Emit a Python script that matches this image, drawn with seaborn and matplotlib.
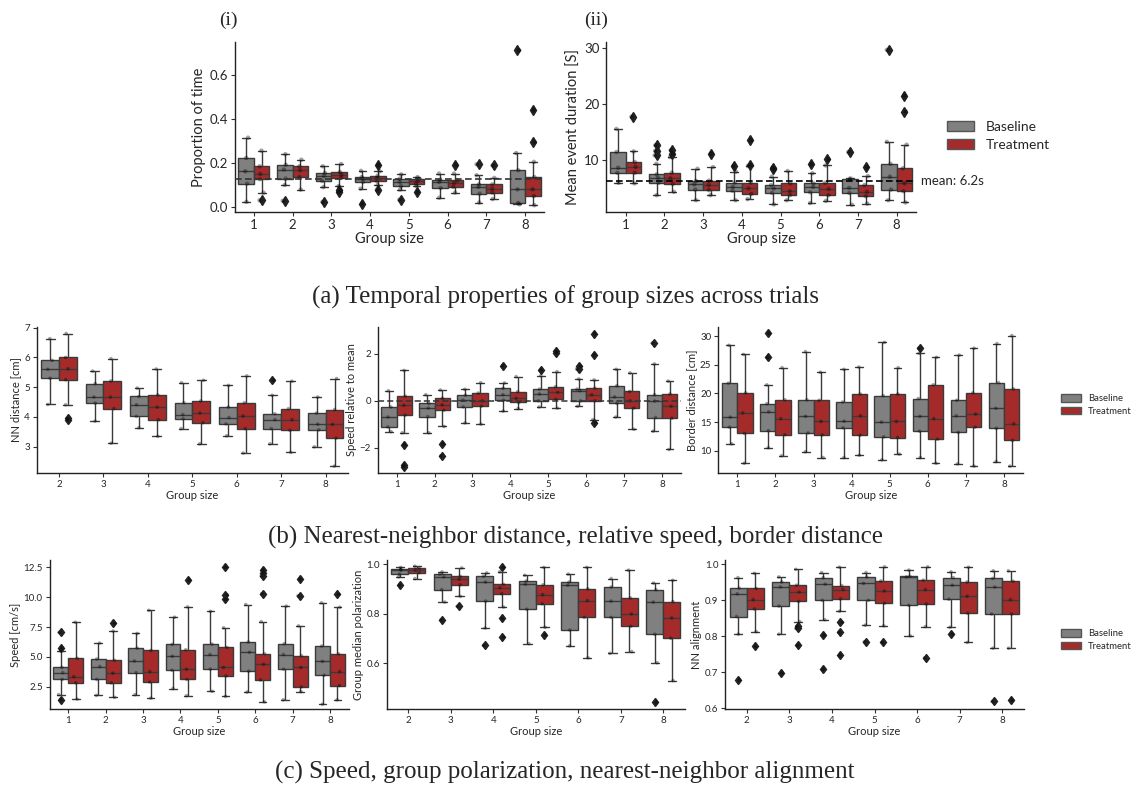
import numpy as np
import pandas as pd
import seaborn as sns
import matplotlib.pyplot as plt
import matplotlib.transforms as mtransforms
from matplotlib.patches import Patch

sns.set_theme(style="ticks")
plt.rcParams["font.family"] = ["Lato", "DejaVu Sans"]
np.random.seed(3)

conds = ["Baseline", "Treatment"]
palette = {"Baseline": "#808080", "Treatment": "#a52a2a"}

sizes_all = [1, 2, 3, 4, 5, 6, 7, 8]
sizes_2up = [2, 3, 4, 5, 6, 7, 8]

# box summaries: (low whisker, q1, median, q3, high whisker)
# plus the outliers drawn as diamonds, one list per group size

# (i) proportion of time
prop_base = [(0.023, 0.106, 0.162, 0.223, 0.315), (0.100, 0.129, 0.170, 0.192, 0.240),
             (0.090, 0.118, 0.141, 0.155, 0.185), (0.083, 0.114, 0.129, 0.136, 0.164),
             (0.079, 0.095, 0.114, 0.129, 0.148), (0.042, 0.086, 0.114, 0.124, 0.152),
             (0.020, 0.061, 0.091, 0.103, 0.144), (0.012, 0.018, 0.080, 0.167, 0.245)]
prop_base_out = [[], [0.028], [0.023], [0.015], [0.033], [], [0.194], [0.712]]
prop_treat = [(0.065, 0.126, 0.150, 0.185, 0.256), (0.079, 0.136, 0.167, 0.185, 0.215),
              (0.095, 0.132, 0.147, 0.159, 0.195), (0.100, 0.118, 0.132, 0.142, 0.162),
              (0.094, 0.106, 0.118, 0.129, 0.136), (0.065, 0.091, 0.109, 0.121, 0.152),
              (0.036, 0.065, 0.083, 0.103, 0.132), (0.008, 0.050, 0.080, 0.136, 0.205)]
prop_treat_out = [[0.030], [], [0.076, 0.068], [0.190, 0.079], [0.068], [0.192], [0.189], [0.442, 0.295]]

# (ii) mean event duration
dur_base = [(5.9, 7.7, 8.6, 11.4, 15.5), (3.7, 5.9, 6.8, 7.4, 9.3), (2.8, 4.7, 5.65, 6.25, 8.4),
            (2.8, 4.5, 5.2, 5.95, 7.9), (2.05, 4.1, 4.9, 5.5, 7.0), (2.3, 4.2, 5.2, 5.8, 7.6),
            (2.0, 4.1, 5.0, 6.5, 6.7), (2.8, 4.7, 7.0, 9.3, 13.2)]
dur_base_out = [[], [12.6, 11.6, 10.8], [], [8.9], [8.6, 8.3], [9.2], [11.4], [29.6]]
dur_treat = [(5.8, 7.7, 8.75, 9.6, 11.5), (4.3, 5.7, 6.7, 7.7, 10.5), (3.7, 4.6, 5.5, 6.3, 8.7),
             (3.0, 3.9, 4.9, 5.95, 8.9), (2.8, 3.7, 4.4, 5.8, 8.0), (2.7, 3.7, 4.8, 5.9, 9.0),
             (2.2, 3.5, 4.3, 5.5, 7.1), (2.4, 4.4, 5.8, 8.5, 12.7)]
dur_treat_out = [[17.7], [11.7, 11.1], [11.1], [9.1, 13.5], [], [10.1], [8.7], [21.4, 18.6]]

# (b) nearest-neighbour distance, sizes 2-8
nn_base = [(4.42, 5.30, 5.60, 5.90, 6.63), (3.86, 4.47, 4.67, 5.12, 5.54), (3.64, 4.02, 4.41, 4.69, 4.97),
           (3.61, 3.94, 4.08, 4.48, 5.15), (3.37, 3.77, 3.98, 4.33, 5.06), (3.10, 3.61, 3.91, 4.11, 4.73),
           (3.00, 3.57, 3.76, 4.13, 4.67)]
nn_base_out = [[], [], [], [], [], [5.23], []]
nn_treat = [(4.41, 5.25, 5.62, 6.00, 6.80), (3.12, 4.28, 4.67, 5.21, 5.96), (3.35, 3.91, 4.33, 4.74, 5.61),
            (3.10, 3.81, 4.13, 4.54, 5.23), (2.79, 3.61, 4.03, 4.48, 5.38), (2.81, 3.55, 3.91, 4.28, 5.20),
            (2.35, 3.29, 3.75, 4.25, 5.29)]
nn_treat_out = [[3.91, 3.95], [], [], [], [], [], []]

# (b) speed relative to mean
rel_base = [(-1.31, -1.11, -0.69, -0.26, 0.43), (-1.36, -0.67, -0.31, -0.11, 0.26),
            (-0.94, -0.26, 0.03, 0.24, 0.49), (-0.44, 0.03, 0.26, 0.53, 0.76),
            (-0.26, 0.00, 0.29, 0.50, 1.07), (-0.23, 0.00, 0.43, 0.50, 0.93),
            (-0.69, -0.11, 0.17, 0.64, 1.34), (-1.29, -0.71, -0.01, 0.26, 1.57)]
rel_base_out = [[], [], [], [1.49], [1.31], [1.47, 1.36], [], [2.46]]
rel_treat = [(-1.36, -0.61, -0.19, 0.20, 1.29), (-1.09, -0.40, -0.17, 0.11, 0.46),
             (-0.99, -0.23, 0.00, 0.33, 0.77), (-0.33, -0.07, 0.11, 0.39, 1.03),
             (-0.31, 0.06, 0.36, 0.60, 1.24), (-0.80, 0.00, 0.26, 0.54, 0.89),
             (-1.21, -0.31, 0.00, 0.40, 1.19), (-2.07, -0.74, -0.23, 0.29, 0.84)]
rel_treat_out = [[-1.86, -2.74, -2.81], [-1.83, -2.34], [], [], [2.11, 2.04], [2.86, 1.96, -0.93], [], []]

# (b) border distance
border_base = [(11.2, 14.1, 15.85, 21.8, 28.4), (10.5, 13.5, 16.8, 18.2, 21.5), (9.8, 13.1, 16.0, 18.9, 27.3),
               (8.8, 14.0, 15.15, 18.5, 24.2), (8.4, 12.4, 15.0, 19.6, 28.9), (8.8, 13.4, 16.0, 19.1, 27.0),
               (7.7, 13.2, 16.1, 18.8, 26.7), (8.1, 13.9, 17.4, 21.9, 28.7)]
border_base_out = [[], [30.5, 26.3], [], [], [], [27.9], [], []]
border_treat = [(7.8, 13.0, 16.6, 20.1, 26.8), (9.1, 12.8, 15.6, 18.9, 24.5), (8.8, 12.75, 15.1, 18.8, 23.7),
                (9.2, 12.7, 16.1, 19.9, 24.6), (9.4, 12.3, 15.1, 19.9, 24.5), (7.8, 12.0, 15.6, 21.5, 26.3),
                (7.3, 14.1, 16.4, 20.1, 27.9), (7.3, 11.8, 14.7, 20.8, 30.1)]
border_treat_out = [[], [], [], [], [], [], [], []]

# (c) speed
speed_base = [(1.85, 3.12, 3.69, 4.12, 5.5), (1.79, 3.12, 4.2, 4.83, 6.16), (1.85, 3.69, 4.66, 5.74, 6.96),
              (2.36, 3.89, 5.06, 6.05, 8.32), (2.13, 3.98, 5.2, 6.08, 8.81), (2.07, 3.81, 5.4, 6.25, 9.38),
              (1.42, 3.98, 5.2, 6.11, 9.25), (1.05, 3.47, 4.63, 5.91, 9.52)]
speed_base_out = [[1.42, 5.75, 7.05], [], [], [], [], [], [], []]
speed_treat = [(1.48, 2.84, 3.35, 4.89, 7.9), (1.62, 2.84, 3.64, 4.72, 7.16), (1.56, 2.9, 3.78, 5.54, 8.89),
               (1.76, 3.12, 3.98, 5.6, 9.18), (1.7, 3.41, 4.12, 5.8, 7.44), (1.25, 3.07, 4.38, 5.28, 7.95),
               (2.1, 2.5, 4.12, 5.11, 7.59), (1.42, 2.61, 3.78, 5.26, 9.15)]
speed_treat_out = [[], [7.81], [], [11.42], [12.5, 10.2, 9.8], [12.27, 12.02, 11.79, 10.28],
                   [11.5, 10.11], [10.23]]

# (c) group median polarization, sizes 2-8
pol_base = [(0.950, 0.961, 0.977, 0.981, 0.988), (0.848, 0.898, 0.950, 0.961, 0.970),
            (0.743, 0.852, 0.929, 0.952, 0.966), (0.680, 0.819, 0.920, 0.933, 0.956),
            (0.671, 0.735, 0.916, 0.929, 0.961), (0.641, 0.786, 0.852, 0.909, 0.943),
            (0.603, 0.718, 0.848, 0.898, 0.925)]
pol_base_out = [[0.916], [0.776], [0.673], [], [], [], [0.443]]
pol_treat = [(0.943, 0.967, 0.977, 0.984, 0.993), (0.871, 0.918, 0.940, 0.952, 0.986),
             (0.828, 0.882, 0.906, 0.920, 0.970), (0.746, 0.841, 0.878, 0.918, 0.988),
             (0.623, 0.786, 0.854, 0.902, 0.988), (0.648, 0.750, 0.800, 0.865, 0.977),
             (0.531, 0.702, 0.784, 0.850, 0.936)]
pol_treat_out = [[], [0.831], [0.988, 0.782, 0.707], [0.716], [], [], []]

# (c) NN alignment, sizes 2-8
align_base = [(0.806, 0.855, 0.918, 0.934, 0.963), (0.806, 0.884, 0.937, 0.951, 0.965),
              (0.846, 0.900, 0.945, 0.963, 0.977), (0.831, 0.900, 0.947, 0.965, 0.977),
              (0.801, 0.886, 0.965, 0.967, 0.984), (0.825, 0.903, 0.942, 0.963, 0.979),
              (0.767, 0.862, 0.937, 0.961, 0.982)]
align_base_out = [[0.679], [0.698], [0.803, 0.708], [0.785], [], [0.806], [0.619]]
align_treat = [(0.813, 0.876, 0.902, 0.933, 0.975), (0.841, 0.897, 0.923, 0.942, 0.986),
               (0.870, 0.904, 0.930, 0.941, 0.992), (0.829, 0.892, 0.926, 0.954, 0.993),
               (0.827, 0.890, 0.930, 0.956, 0.993), (0.783, 0.864, 0.911, 0.951, 0.992),
               (0.767, 0.862, 0.902, 0.953, 0.982)]
align_treat_out = [[0.772], [0.828, 0.822, 0.775], [0.839, 0.811, 0.747], [0.783], [0.740], [], [0.622]]


def long_table(sizes, base, base_out, treat, treat_out):
    # quartile values are repeated so seaborn's own quartiles land on the read values
    rows = []
    for cond, stats, outs in (("Baseline", base, base_out), ("Treatment", treat, treat_out)):
        for g, (lo, q1, med, q3, hi), extra in zip(sizes, stats, outs):
            vals = [lo] + [q1] * 5 + [med] * 5 + [q3] * 5 + [hi] + list(extra)
            rows += [(g, cond, v) for v in vals]
    return pd.DataFrame(rows, columns=["size", "cond", "value"])


def panel(ax, df, ylabel, ylim, yticks, fmt, small):
    fs_tick, fs_lab = (7, 8) if small else (9.5, 10.5)
    sns.boxplot(data=df, x="size", y="value", hue="cond", hue_order=conds, palette=palette,
                saturation=1, width=0.8, linecolor="#3a3a3a", linewidth=1.0,
                flierprops=dict(marker="d", markerfacecolor="#222222", markeredgecolor="#222222",
                                markersize=4.5 if small else 5.5),
                legend=False, ax=ax)
    pts = df.drop_duplicates()
    sns.stripplot(data=pts, x="size", y="value", hue="cond", hue_order=conds, dodge=True,
                  palette={"Baseline": "black", "Treatment": "black"}, alpha=0.35,
                  size=2.6 if small else 3.2, jitter=0.12, legend=False, ax=ax)
    ax.set_ylim(*ylim)
    ax.set_yticks(yticks)
    ax.set_yticklabels([fmt.format(t).replace("-", "\u2212") for t in yticks])
    ax.set_xlim(-0.5, df["size"].nunique() - 0.5)
    ax.set_xlabel("Group size", fontsize=fs_lab, labelpad=1)
    ax.set_ylabel(ylabel, fontsize=fs_lab, labelpad=2)
    ax.tick_params(labelsize=fs_tick, length=3, width=0.8, color="#333333", pad=2)
    sns.despine(ax=ax)
    for s in ("left", "bottom"):
        ax.spines[s].set_color("#222222")
        ax.spines[s].set_linewidth(1.0)


W, H = 1137, 787
fig = plt.figure(figsize=(W / 100, H / 100), dpi=100)


def add_axes(left, right, top, bottom):
    return fig.add_axes([left / W, 1 - bottom / H, (right - left) / W, (bottom - top) / H])


# row (a)
ax = add_axes(234.6, 544.4, 42, 212)
panel(ax, long_table(sizes_all, prop_base, prop_base_out, prop_treat, prop_treat_out),
      "Proportion of time", (-0.023, 0.75), [0.0, 0.2, 0.4, 0.6], "{:.1f}", False)
ax.axhline(0.125, ls=(0, (4, 2)), color="#333333", lw=1.2, zorder=5)

ax = add_axes(606.3, 916.0, 42, 212)
panel(ax, long_table(sizes_all, dur_base, dur_base_out, dur_treat, dur_treat_out),
      "Mean event duration [S]", (0.7, 31), [10, 20, 30], "{:.0f}", False)
ax.axhline(6.2, ls=(0, (4, 2)), color="black", lw=1.2, zorder=5)
trans = mtransforms.blended_transform_factory(ax.transAxes, ax.transData)
ax.text(1.015, 6.2, "mean: 6.2s", transform=trans, va="center", ha="left", fontsize=9.5)

fig.text(219 / W, 1 - 20 / H, "(i)", fontsize=14, family="Liberation Serif", va="center")
fig.text(584 / W, 1 - 20 / H, "(ii)", fontsize=14, family="Liberation Serif", va="center")

# row (b)
ax = add_axes(36.8, 347.9, 327, 473)
panel(ax, long_table(sizes_2up, nn_base, nn_base_out, nn_treat, nn_treat_out),
      "NN distance [cm]", (2.12, 7.02), [3, 4, 5, 6, 7], "{:.0f}", True)

ax = add_axes(377.7, 681.0, 327, 473)
panel(ax, long_table(sizes_all, rel_base, rel_base_out, rel_treat, rel_treat_out),
      "Speed relative to mean", (-3.07, 3.14), [-2, 0, 2], "{:.0f}", True)
ax.axhline(0, ls=(0, (4, 2)), color="#333333", lw=1.1, zorder=5)

ax = add_axes(718.3, 1023.0, 327, 473)
panel(ax, long_table(sizes_all, border_base, border_base_out, border_treat, border_treat_out),
      "Border distance [cm]", (6.1, 31.6), [10, 15, 20, 25, 30], "{:.0f}", True)

# row (c)
ax = add_axes(49.6, 348.7, 560, 709)
panel(ax, long_table(sizes_all, speed_base, speed_base_out, speed_treat, speed_treat_out),
      "Speed [cm/s]", (0.65, 13.1), [2.5, 5.0, 7.5, 10.0, 12.5], "{:.1f}", True)

ax = add_axes(387.0, 684.6, 560, 709)
panel(ax, long_table(sizes_2up, pol_base, pol_base_out, pol_treat, pol_treat_out),
      "Group median polarization", (0.416, 1.018), [0.6, 0.8, 1.0], "{:.1f}", True)

ax = add_axes(725.4, 1023.6, 560, 709)
panel(ax, long_table(sizes_2up, align_base, align_base_out, align_treat, align_treat_out),
      "NN alignment", (0.598, 1.012), [0.6, 0.7, 0.8, 0.9, 1.0], "{:.1f}", True)

# legends
handles = [Patch(facecolor=palette[c], edgecolor="#555555", label=c) for c in conds]
fig.legend(handles=handles, loc="center left", bbox_to_anchor=(934 / W, 1 - 136 / H), frameon=False,
           fontsize=10, handlelength=2.0, handleheight=0.75, handletextpad=0.8, labelspacing=0.45)
for yc in (405, 640):
    fig.legend(handles=handles, loc="center left", bbox_to_anchor=(1052 / W, 1 - yc / H), frameon=False,
               fontsize=6.8, handlelength=2.2, handleheight=0.9, handletextpad=0.7, labelspacing=0.35)

# captions
cap_kw = dict(ha="center", va="center", fontsize=18, family="Liberation Serif")
fig.text(566 / W, 1 - 297 / H, "(a) Temporal properties of group sizes across trials", **cap_kw)
fig.text(575 / W, 1 - 537 / H, "(b) Nearest-neighbor distance, relative speed, border distance", **cap_kw)
fig.text(565 / W, 1 - 772 / H, "(c) Speed, group polarization, nearest-neighbor alignment", **cap_kw)

fig.savefig("out.png", dpi=100)
